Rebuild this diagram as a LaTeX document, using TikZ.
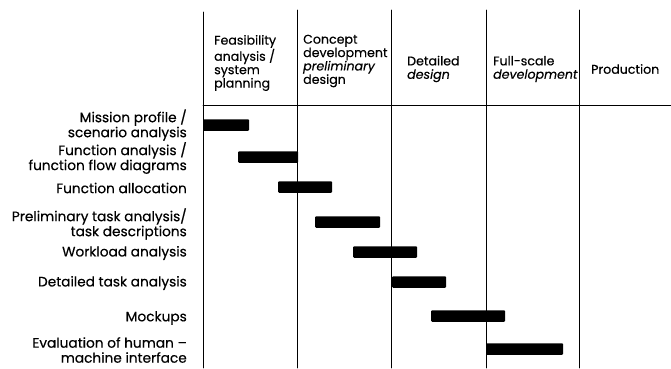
\documentclass[tikz,border=0pt]{standalone}
\usepackage{fontspec}
\setmainfont{Poppins}[UprightFeatures={FakeBold=0.4}, ItalicFeatures={FakeBold=0.4}]
\tikzset{bar/.style={fill=black, rounded corners=1pt, minimum height=11.5pt, inner sep=0pt, anchor=west},
  task/.style={align=right, anchor=east, inner sep=0pt, font=\fontsize{13.7}{15}\selectfont},
  phase/.style={align=left, anchor=west, inner sep=0pt, font=\fontsize{12.6}{13.4}\selectfont},
  grid/.style={line width=0.8pt}}

\begin{document}
\begin{tikzpicture}[x=1pt, y=-1pt, line cap=round, line join=round]
\useasboundingbox (0,0) rectangle (671,368);

\draw[grid] (203,12) -- (203,368);
\draw[grid] (297,10) -- (297,368);
\draw[grid] (391,10) -- (391,368);
\draw[grid] (486,10) -- (486,368);
\draw[grid] (579,10) -- (579,368);
\draw[grid] (203,105) -- (671,105);

\node[phase] (feas) at (214,63) {Feasibility\\analysis /\\system\\planning};
\node[phase] (conc) at (303,61) {Concept\\development\\\textit{preliminary}\\design};
\node[phase] (det) at (407,69) {Detailed\\\textit{design}};
\node[phase] (full) at (493,69) {Full-scale\\\textit{development}};
\node[phase] (prod) at (591,69) {Production};

\node[task] (mis) at (187,125) {Mission profile /\\scenario analysis};
\node[task] (fun) at (187,158) {Function analysis /\\function flow diagrams};
\node[task] (all) at (187,188) {Function allocation};
\node[task] (pre) at (187,224) {Preliminary task analysis/\\task descriptions};
\node[task] (wor) at (187,253) {Workload analysis};
\node[task] (dta) at (187,283) {Detailed task analysis};
\node[task] (moc) at (187,318) {Mockups};
\node[task] (eva) at (187,350) {Evaluation of human --\\machine interface};

\node[bar, minimum width=46pt] (b1) at (203,125) {};
\node[bar, minimum width=60pt] (b2) at (238,157) {};
\node[bar, minimum width=54pt] (b3) at (278,187) {};
\node[bar, minimum width=65pt] (b4) at (315,222) {};
\node[bar, minimum width=64pt] (b5) at (353,252) {};
\node[bar, minimum width=54pt] (b6) at (392,282) {};
\node[bar, minimum width=74pt] (b7) at (431,316) {};
\node[bar, minimum width=77pt] (b8) at (486,349) {};

\end{tikzpicture}
\end{document}
